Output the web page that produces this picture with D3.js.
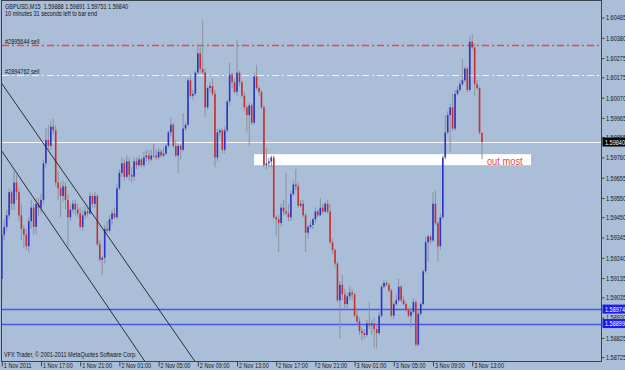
<!DOCTYPE html>
<html>
<head>
<meta charset="utf-8">
<script src="https://cdn.jsdelivr.net/npm/d3@7"></script>
<style>
  html, body { margin: 0; padding: 0; background: #aabed8; overflow: hidden; }
  svg { display: block; }
  text { font-family: "Liberation Sans", Arial, sans-serif; fill: #151515; }
</style>
</head>
<body>
<svg id="chart" width="625" height="370"></svg>
<script>
"use strict";

// GBPUSD M15, one value per bar from 1 Nov 2011 13:00 to 3 Nov 2011 14:00
var opens = [
  1.5913,1.5936,1.5940,1.5946,1.5958,1.5952,1.5963,1.5958,1.5946,1.5939,
  1.5936,1.5930,1.5943,1.5950,1.5940,1.5952,1.5950,1.5954,1.5973,1.5985,
  1.5982,1.5992,1.5990,1.5963,1.5960,1.5956,1.5961,1.5954,1.5945,1.5949,
  1.5952,1.5949,1.5947,1.5940,1.5946,1.5948,1.5947,1.5956,1.5952,1.5956,
  1.5931,1.5923,1.5924,1.5939,1.5938,1.5944,1.5947,1.5945,1.5960,1.5968,
  1.5973,1.5966,1.5974,1.5967,1.5966,1.5974,1.5972,1.5975,1.5972,1.5976,
  1.5977,1.5975,1.5977,1.5977,1.5976,1.5979,1.5977,1.5978,1.5982,1.5989,
  1.5993,1.5982,1.5977,1.5982,1.5980,1.5991,1.5993,1.6016,1.6008,1.6009,
  1.6020,1.6030,1.6022,1.6020,1.6002,1.6012,1.6013,1.6009,1.5976,1.5989,
  1.5990,1.5980,1.5990,1.6005,1.6019,1.6015,1.6010,1.6020,1.6015,1.6008,
  1.6002,1.5998,1.6003,1.5994,1.6018,1.6012,1.6010,1.6002,1.5972,1.5973,
  1.5974,1.5976,1.5945,1.5944,1.5942,1.5950,1.5948,1.5947,1.5945,1.5957,
  1.5962,1.5961,1.5951,1.5952,1.5946,1.5937,1.5940,1.5941,1.5944,1.5948,
  1.5946,1.5950,1.5948,1.5952,1.5948,1.5932,1.5928,1.5921,1.5902,1.5910,
  1.5905,1.5900,1.5904,1.5906,1.5905,1.5894,1.5891,1.5886,1.5885,1.5884,
  1.5890,1.5889,1.5890,1.5887,1.5885,1.5894,1.5909,1.5911,1.5910,1.5907,
  1.5894,1.5900,1.5902,1.5909,1.5902,1.5900,1.5897,1.5894,1.5896,1.5901,
  1.5879,1.5895,1.5900,1.5917,1.5932,1.5935,1.5933,1.5952,1.5942,1.5930,
  1.5945,1.5976,1.5989,1.5998,1.6002,1.5991,1.6009,1.6011,1.6014,1.6016,
  1.6022,1.6011,1.6036,1.6033,1.6014,1.6012,1.59888
];
var highs = [
  1.5938,1.5944,1.5949,1.5960,1.5959,1.5969,1.5967,1.5960,1.5952,1.5941,
  1.5939,1.5945,1.5954,1.5952,1.5955,1.5955,1.5957,1.5975,1.5991,1.5993,
  1.5995,1.5996,1.5993,1.5969,1.5963,1.5964,1.5963,1.5957,1.5952,1.5954,
  1.5954,1.5952,1.5950,1.5949,1.5951,1.5950,1.5958,1.5957,1.5958,1.5957,
  1.5933,1.5925,1.5941,1.5943,1.5946,1.5949,1.5950,1.5962,1.5970,1.5976,
  1.5975,1.5977,1.5976,1.5971,1.5976,1.5976,1.5977,1.5976,1.5979,1.5980,
  1.5980,1.5980,1.5983,1.5980,1.5981,1.5980,1.5981,1.5983,1.5990,1.5997,
  1.5994,1.5985,1.5983,1.5983,1.5999,1.5994,1.6017,1.6018,1.6011,1.6021,
  1.6034,1.6033,1.6047,1.6022,1.6013,1.6015,1.6017,1.6011,1.5991,1.5991,
  1.5991,1.5992,1.6006,1.6025,1.6020,1.6017,1.6037,1.6021,1.6016,1.6010,
  1.6003,1.6004,1.6004,1.6020,1.6024,1.6013,1.6011,1.6003,1.5981,1.5976,
  1.5977,1.5977,1.5946,1.5946,1.5952,1.5954,1.5968,1.5952,1.5959,1.5964,
  1.5970,1.5963,1.5954,1.5954,1.5947,1.5941,1.5943,1.5945,1.5950,1.5949,
  1.5955,1.5952,1.5953,1.5954,1.5952,1.5934,1.5929,1.5922,1.5912,1.5915,
  1.5908,1.5906,1.5909,1.5908,1.5906,1.5898,1.5893,1.5888,1.5887,1.5892,
  1.5901,1.5892,1.5893,1.5889,1.5896,1.5910,1.5913,1.5912,1.5911,1.5908,
  1.5901,1.5905,1.5913,1.5910,1.5904,1.5901,1.5898,1.5898,1.5903,1.5902,
  1.5897,1.5901,1.5918,1.5935,1.5936,1.5936,1.5958,1.5959,1.5943,1.5947,
  1.5977,1.5998,1.6000,1.6004,1.6009,1.6011,1.6013,1.6016,1.6027,1.6023,
  1.6023,1.6039,1.6040,1.6035,1.6016,1.6013,1.59891
];
var lows = [
  1.5902,1.5933,1.5938,1.5944,1.5949,1.5949,1.5954,1.5943,1.5933,1.5929,
  1.5928,1.5927,1.5939,1.5936,1.5936,1.5946,1.5947,1.5952,1.5971,1.5980,
  1.5980,1.5988,1.5961,1.5954,1.5945,1.5953,1.5949,1.5930,1.5943,1.5947,
  1.5946,1.5945,1.5939,1.5938,1.5944,1.5945,1.5946,1.5950,1.5950,1.5930,
  1.5922,1.5915,1.5921,1.5937,1.5937,1.5941,1.5944,1.5944,1.5959,1.5966,
  1.5964,1.5965,1.5964,1.5963,1.5964,1.5970,1.5971,1.5971,1.5971,1.5974,
  1.5973,1.5974,1.5976,1.5975,1.5975,1.5976,1.5976,1.5977,1.5981,1.5987,
  1.5981,1.5976,1.5968,1.5975,1.5979,1.5990,1.5992,1.6007,1.6006,1.6008,
  1.6019,1.6020,1.6019,1.5997,1.6001,1.6010,1.6008,1.5971,1.5974,1.5987,
  1.5978,1.5978,1.5989,1.6003,1.6012,1.6009,1.6008,1.6013,1.6007,1.6000,
  1.5989,1.5982,1.5993,1.5993,1.6011,1.6008,1.6001,1.5971,1.5970,1.5971,
  1.5971,1.5944,1.5935,1.5927,1.5940,1.5946,1.5946,1.5943,1.5943,1.5956,
  1.5959,1.5950,1.5950,1.5945,1.5927,1.5934,1.5939,1.5939,1.5942,1.5945,
  1.5946,1.5947,1.5947,1.5947,1.5931,1.5926,1.5919,1.5901,1.5882,1.5902,
  1.5898,1.5898,1.5902,1.5902,1.5893,1.5890,1.5884,1.5881,1.5882,1.5883,
  1.5887,1.5884,1.5877,1.5877,1.5884,1.5893,1.5908,1.5909,1.5906,1.5893,
  1.5892,1.5899,1.5901,1.5901,1.5899,1.5896,1.5893,1.5888,1.5895,1.5878,
  1.5878,1.5894,1.5899,1.5916,1.5922,1.5931,1.5932,1.5941,1.5922,1.5928,
  1.5944,1.5975,1.5988,1.5979,1.5990,1.5990,1.6008,1.6010,1.6013,1.6015,
  1.6010,1.6010,1.6032,1.6008,1.6011,1.5988,1.59751
];
var closes = [
  1.5936,1.5940,1.5946,1.5958,1.5952,1.5963,1.5958,1.5946,1.5939,1.5936,
  1.5930,1.5943,1.5950,1.5940,1.5952,1.5950,1.5954,1.5973,1.5985,1.5982,
  1.5992,1.5990,1.5963,1.5960,1.5956,1.5961,1.5954,1.5945,1.5949,1.5952,
  1.5949,1.5947,1.5940,1.5946,1.5948,1.5947,1.5956,1.5952,1.5956,1.5931,
  1.5923,1.5924,1.5939,1.5938,1.5944,1.5947,1.5945,1.5960,1.5968,1.5973,
  1.5966,1.5974,1.5967,1.5966,1.5974,1.5972,1.5975,1.5972,1.5976,1.5977,
  1.5975,1.5977,1.5977,1.5976,1.5979,1.5977,1.5978,1.5982,1.5989,1.5993,
  1.5982,1.5977,1.5982,1.5980,1.5991,1.5993,1.6016,1.6008,1.6009,1.6020,
  1.6030,1.6022,1.6020,1.6002,1.6012,1.6013,1.6009,1.5976,1.5989,1.5990,
  1.5980,1.5990,1.6005,1.6019,1.6015,1.6010,1.6020,1.6015,1.6008,1.6002,
  1.5998,1.6003,1.5994,1.6018,1.6012,1.6010,1.6002,1.5972,1.5973,1.5974,
  1.5976,1.5945,1.5944,1.5942,1.5950,1.5948,1.5947,1.5945,1.5957,1.5962,
  1.5961,1.5951,1.5952,1.5946,1.5937,1.5940,1.5941,1.5944,1.5948,1.5946,
  1.5950,1.5948,1.5952,1.5948,1.5932,1.5928,1.5921,1.5902,1.5910,1.5905,
  1.5900,1.5904,1.5906,1.5905,1.5894,1.5891,1.5886,1.5885,1.5884,1.5890,
  1.5889,1.5890,1.5887,1.5885,1.5894,1.5909,1.5911,1.5910,1.5907,1.5894,
  1.5900,1.5902,1.5909,1.5902,1.5900,1.5897,1.5894,1.5896,1.5901,1.5879,
  1.5895,1.5900,1.5917,1.5932,1.5935,1.5933,1.5952,1.5942,1.5930,1.5945,
  1.5976,1.5989,1.5998,1.6002,1.5991,1.6009,1.6011,1.6014,1.6016,1.6022,
  1.6011,1.6036,1.6033,1.6014,1.6012,1.5989,1.59840
];

var symbol = "GBPUSD,M15";
var timerText = "10 minutes 31 seconds left to bar end";
var copyrightText = "VFX Trader, \u00a9 2001-2011 MetaQuotes Software Corp.";
var timeLabels = ["1 Nov 2011", "1 Nov 17:00", "1 Nov 21:00", "2 Nov 01:00", "2 Nov 05:00",
  "2 Nov 09:00", "2 Nov 13:00", "2 Nov 17:00", "2 Nov 21:00", "3 Nov 01:00",
  "3 Nov 05:00", "3 Nov 09:00", "3 Nov 13:00"];
var priceTicks = [1.60485, 1.60380, 1.60275, 1.60175, 1.60070, 1.59965, 1.59865, 1.59760,
  1.59655, 1.59550, 1.59450, 1.59345, 1.59240, 1.59135, 1.59035, 1.58930, 1.58825, 1.58725];
var orderPrices = [1.60345, 1.60187];
var orderLabels = ["#2895644 sell", "#2894762 sell"];
var bidPrice = 1.59840;
var levelPrices = [1.58974, 1.58899];
var zoneTimes = ["2011-11-02T14:45:00Z", "2011-11-03T19:00:00Z"];
var zonePrices = [1.59777, 1.59720];
var noteTime = "2011-11-03T14:30:00Z";
var notePrice = 1.59722;
var noteText = "out most";
var trendLines = [
  [["2011-11-01T13:00:00Z", 1.60143], ["2011-11-02T08:00:00Z", 1.58755]],
  [["2011-11-01T13:00:00Z", 1.59793], ["2011-11-02T03:00:00Z", 1.58748]]
];
var oddBars = [62];

var svg = d3.select("#chart");
var barMs = 15 * 60 * 1000;
var t0 = Date.UTC(2011, 10, 1, 13, 0);
var times = closes.map((c, i) => new Date(t0 + i * barMs));
var sx = 0.79; // terminal font is narrow
var fmt = d3.format(".5f");

var x = d3.scaleTime()
    .domain([new Date(t0), new Date(t0 + 245 * barMs)])
    .range([1.8, 602.05]);
var y = d3.scaleLinear()
    .domain([1.58705, 1.60571])
    .range([361, 1]);

var smallText = (g, px, py, str) => g.append("text")
    .attr("transform", "translate(" + px + "," + py + ") scale(" + sx + ",1)")
    .style("font-size", "7px")
    .text(str);

svg.append("defs").append("clipPath").attr("id", "plotClip")
    .append("rect").attr("x", 2).attr("y", 1).attr("width", 599.5).attr("height", 360);
var plot = svg.append("g").attr("clip-path", "url(#plotClip)");

// zone rectangle (behind bars)
plot.append("rect")
    .attr("x", x(new Date(zoneTimes[0])))
    .attr("y", y(zonePrices[0]))
    .attr("width", x(new Date(zoneTimes[1])) - x(new Date(zoneTimes[0])))
    .attr("height", y(zonePrices[1]) - y(zonePrices[0]))
    .attr("fill", "#ffffff");

// horizontal levels
var hline = (p, color, w, dash) => plot.append("line")
    .attr("x1", 2).attr("x2", 602)
    .attr("y1", Math.round(y(p)) + 0.5).attr("y2", Math.round(y(p)) + 0.5)
    .attr("stroke", color).attr("stroke-width", w)
    .attr("stroke-dasharray", dash);
hline(orderPrices[0], "#f04848", 1.3, "7,3,2,3");
hline(orderPrices[1], "#eef1f7", 1.2, "7,3,2,3");
hline(bidPrice, "#f4f6fa", 1, null);
levelPrices.forEach(p => hline(p, "#4658f2", 1.3, null));

// candles
var upColor = "#2a34c6", downColor = "#cc2e2e", wickColor = "#8a929e", oddColor = "#e03ce0";
var cx = i => x(times[i]);
var barG = plot.append("g").selectAll("g").data(closes).enter().append("g");
barG.append("line")
    .attr("x1", (d, i) => cx(i)).attr("x2", (d, i) => cx(i))
    .attr("y1", (d, i) => y(highs[i])).attr("y2", (d, i) => y(lows[i]))
    .attr("stroke", (d, i) => oddBars.includes(i) ? oddColor : wickColor)
    .attr("stroke-width", 1);
barG.append("rect")
    .attr("x", (d, i) => cx(i) - 0.8)
    .attr("width", 1.6)
    .attr("y", (d, i) => y(Math.max(opens[i], closes[i])))
    .attr("height", (d, i) => Math.max(1, Math.abs(y(opens[i]) - y(closes[i]))))
    .attr("fill", (d, i) => oddBars.includes(i) ? oddColor :
        closes[i] > opens[i] ? upColor : closes[i] < opens[i] ? downColor : wickColor);

// trend lines
trendLines.forEach(tl => {
    var x1 = x(new Date(tl[0][0])), y1 = y(tl[0][1]);
    var x2 = x(new Date(tl[1][0])), y2 = y(tl[1][1]);
    var k = (y2 - y1) / (x2 - x1);
    plot.append("line")
        .attr("x1", x1 - 40).attr("y1", y1 - 40 * k)
        .attr("x2", x2 + 60).attr("y2", y2 + 60 * k)
        .attr("stroke", "#1e1e1e").attr("stroke-width", 0.9);
});

// zone note
plot.append("text")
    .attr("transform", "translate(" + x(new Date(noteTime)) + "," + y(notePrice) + ") scale(0.85,1)")
    .style("font-size", "11px").style("fill", "#e84545")
    .text(noteText);

// order labels
orderPrices.forEach((p, i) => smallText(plot, 5, Math.round(y(p)) - 1, orderLabels[i]));

// frame
svg.append("rect")
    .attr("x", 1.5).attr("y", 0.5).attr("width", 600).attr("height", 361)
    .attr("fill", "none").attr("stroke", "#3a4350");

// price axis
var yAxis = svg.append("g")
    .attr("transform", "translate(601.5,0)")
    .call(d3.axisRight(y).tickValues(priceTicks).tickSize(3).tickFormat(fmt));
yAxis.select(".domain").remove();
yAxis.selectAll(".tick line").attr("stroke", "#3a4350");
yAxis.selectAll(".tick text")
    .attr("x", 4.5 / sx).attr("dy", "0.34em")
    .attr("transform", "scale(" + sx + ",1)")
    .style("font-size", "7px").style("font-family", null).attr("fill", "#151515");

// price boxes
var priceBox = (p, fill) => {
    var py = y(p);
    svg.append("rect").attr("x", 602.5).attr("y", py - 4.5).attr("width", 23).attr("height", 9).attr("fill", fill);
    smallText(svg, 605, py + 2.5, fmt(p)).style("fill", "#ffffff");
};
priceBox(bidPrice, "#000000");
levelPrices.forEach(p => priceBox(p, "#1c1cf0"));

// time axis
var tickTimes = timeLabels.map((s, i) => new Date(t0 + i * 16 * barMs));
var xAxis = svg.append("g")
    .attr("transform", "translate(0,361.5)")
    .call(d3.axisBottom(x).tickValues(tickTimes).tickSize(5).tickFormat((d, i) => timeLabels[i]));
xAxis.select(".domain").remove();
xAxis.selectAll(".tick line").attr("stroke", "#3a4350");
xAxis.selectAll(".tick text")
    .attr("text-anchor", "start")
    .attr("x", 1.5 / sx).attr("y", 6).attr("dy", 0)
    .attr("transform", "scale(" + sx + ",1)")
    .style("font-size", "7px").style("font-family", null).attr("fill", "#151515");

// header and footer texts
var last = closes.length - 1;
smallText(svg, 5, 8.5, symbol + "\u00a0 " +
    [opens[last], highs[last], lows[last], closes[last]].map(fmt).join(" "));
smallText(svg, 5, 15.5, timerText);
smallText(svg, 4, 357, copyrightText);
</script>
</body>
</html>
